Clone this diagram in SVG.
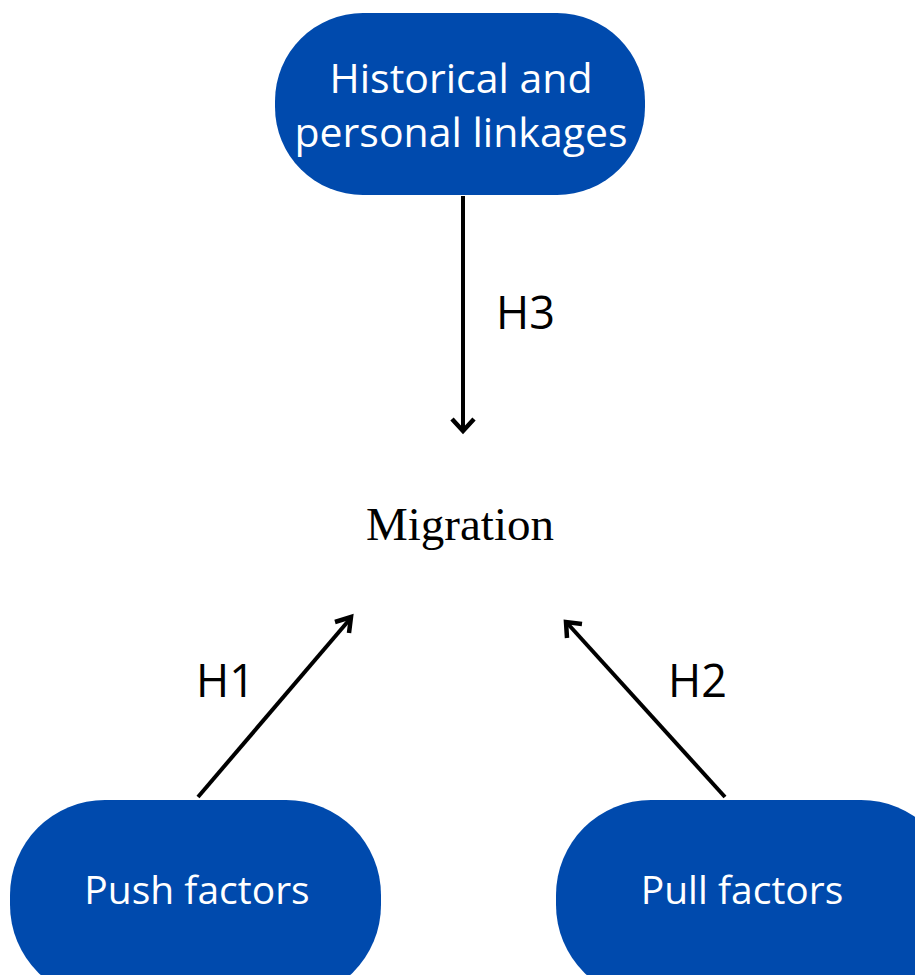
<svg xmlns="http://www.w3.org/2000/svg" width="915" height="975" viewBox="0 0 915 975">
<style>
.node{fill:#004AAD}
.nt{font-family:"Open Sans","Noto Sans",sans-serif;fill:#fff;text-anchor:middle}
.lbl{font-family:"Open Sans","Noto Sans",sans-serif;font-size:45px;fill:#000}
.edge{stroke:#000;stroke-width:4;fill:none}
.head{stroke:#000;stroke-width:4.5;fill:none}
</style>
<rect width="915" height="975" fill="#fff"/>
<g id="edges">
<line class="edge" x1="463" y1="196" x2="463" y2="430"/>
<path class="head" d="M452,419 L463,431 L474,419"/>
<line class="edge" x1="198" y1="797" x2="350" y2="619"/>
<path class="head" d="M335,622 L351,617 L349,633"/>
<line class="edge" x1="725" y1="797" x2="568" y2="624"/>
<path class="head" d="M567,638 L566,622 L582,624"/>
</g>
<g id="historical">
<rect class="node" x="275" y="13" width="370" height="182" rx="88" ry="88"/>
<text class="nt" x="461" y="93" font-size="41">Historical and</text>
<text class="nt" x="461" y="147" font-size="41">personal linkages</text>
</g>
<g id="migration">
<text x="460" y="540" font-family="Liberation Serif,serif" font-size="47" text-anchor="middle" fill="#000">Migration</text>
</g>
<g id="push">
<rect class="node" x="10" y="800" width="371" height="200" rx="95" ry="95"/>
<text class="nt" x="197" y="904" font-size="39">Push factors</text>
</g>
<g id="pull">
<rect class="node" x="556" y="800" width="400" height="200" rx="95" ry="95"/>
<text class="nt" x="742" y="904" font-size="39">Pull factors</text>
</g>
<g id="labels">
<text class="lbl" x="496" y="329">H3</text>
<text class="lbl" x="196" y="697">H1</text>
<text class="lbl" x="668" y="697">H2</text>
</g>
</svg>
